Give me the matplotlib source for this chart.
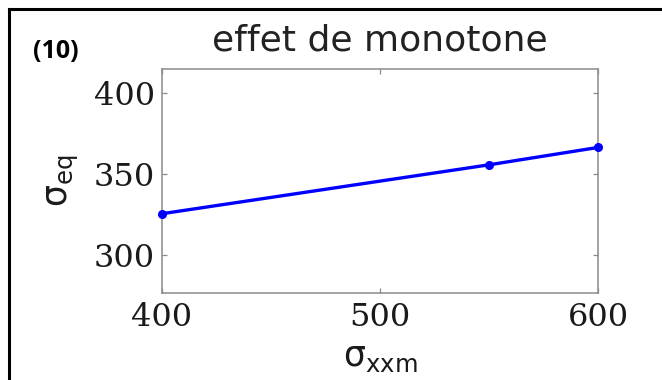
import matplotlib
matplotlib.use("Agg")
import matplotlib.pyplot as plt
from matplotlib.lines import Line2D

# Data
sigma_xxm = [400, 550, 600]
sigma_eq = [325.4, 355.5, 366.2]
x_ticks = [400, 500, 600]
y_ticks = [300, 350, 400]

plt.rcParams['mathtext.fontset'] = 'dejavusans'

W, H = 662, 380
fig = plt.figure(figsize=(W / 100, H / 100), dpi=100)
fig.patch.set_facecolor('white')

ax = fig.add_axes([162 / W, 1 - 293.3 / H, (598 - 162) / W, (293.3 - 68.5) / H])
ax.plot(sigma_xxm, sigma_eq, color='#0000ff', linewidth=2.4,
        marker='o', markersize=5.5, clip_on=False, zorder=5)

ax.set_xlim(400, 600)
ax.set_ylim(276.4, 414.8)
ax.set_xticks(x_ticks)
ax.set_yticks(y_ticks)
ax.set_xticklabels([str(v) for v in x_ticks], family='DejaVu Serif', fontsize=23)
ax.set_yticklabels([str(v) for v in y_ticks], family='DejaVu Serif', fontsize=23)

frame_color = '#8a8a8a'
for s in ax.spines.values():
    s.set_color(frame_color)
    s.set_linewidth(1.1)
ax.tick_params(direction='in', length=3.5, width=0.9, color=frame_color,
               top=True, right=True, labelcolor='#1a1a1a')
ax.tick_params(axis='x', pad=6)
ax.tick_params(axis='y', pad=5)

ax.set_title('effet de monotone', family='DejaVu Sans', fontsize=26,
             color='#222222', pad=13)
ax.set_xlabel(r'$\mathregular{σ_{xxm}}$', fontsize=25, color='#1a1a1a', labelpad=5)
ax.set_ylabel(r'$\mathregular{σ_{eq}}$', fontsize=25, color='#1a1a1a', labelpad=9)

fig.text(33 / W, 1 - 52 / H, '(10)', family='Open Sans', fontweight='bold',
         fontsize=18, va='center', ha='left', color='black')

# Panel border (left and top edges)
fig.add_artist(Line2D([8.5 / W, 8.5 / W], [0, 1 - 8.5 / H], transform=fig.transFigure,
                      color='black', linewidth=2.2, solid_capstyle='projecting'))
fig.add_artist(Line2D([8.5 / W, 1], [1 - 8.5 / H, 1 - 8.5 / H], transform=fig.transFigure,
                      color='black', linewidth=2.2, solid_capstyle='projecting'))

fig.savefig('out.png', dpi=100, facecolor='white')
